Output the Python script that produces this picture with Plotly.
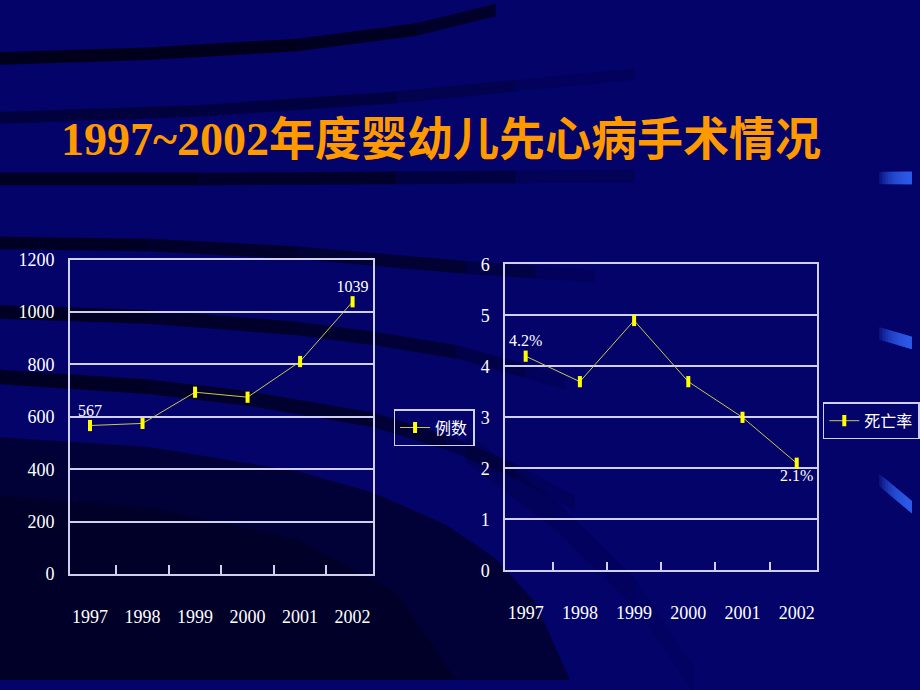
import plotly.graph_objects as go

# data
years = ["1997", "1998", "1999", "2000", "2001", "2002"]
cases = [567, 575, 694, 675, 811, 1039]
case_labels = ["567", "", "", "", "", "1039"]
death_rate = [4.2, 3.7, 4.9, 3.7, 3.0, 2.1]
death_labels = ["4.2%", "", "", "", "", "2.1%"]

W, H = 920, 690
BG = "#03036a"
GRID = "#d0d0ee"
LINE = "#c8c850"
TICKFONT = dict(family="Liberation Serif", size=18, color="white")


def pt(x, y):
    # pixel -> paper coords
    return f"{x / W:.4f},{1 - y / H:.4f}"


def poly(pts, color):
    path = "M " + " L ".join(pt(x, y) for x, y in pts) + " Z"
    return dict(type="path", xref="paper", yref="paper", path=path,
                fillcolor=color, line=dict(width=0), layer="below")


def band(center, width, alphas, rgb="0,0,15"):
    # dark stripe drawn piece by piece so it can fade out to the right
    out = []
    for i in range(len(center) - 1):
        (x0, y0), (x1, y1) = center[i], center[i + 1]
        h = width / 2
        out.append(poly([(x0, y0 - h), (x1, y1 - h), (x1, y1 + h), (x0, y0 + h)],
                        f"rgba({rgb},{alphas[i]})"))
    return out


fig = go.Figure()

fig.add_trace(go.Scatter(
    x=years, y=cases, name="例数", mode="lines+markers+text",
    text=case_labels, textposition="top center", cliponaxis=False,
    textfont=dict(family="Liberation Serif", size=16, color="white"),
    line=dict(color=LINE, width=1),
    marker=dict(symbol="line-ns-open", size=8, color="#ffff00", line=dict(color="#ffff00", width=4)),
    xaxis="x", yaxis="y", legend="legend"))

fig.add_trace(go.Scatter(
    x=years, y=death_rate, name="死亡率", mode="lines+markers+text",
    text=death_labels, cliponaxis=False,
    textposition=["top center", "top center", "top center", "top center", "top center", "bottom center"],
    textfont=dict(family="Liberation Serif", size=16, color="white"),
    line=dict(color=LINE, width=1),
    marker=dict(symbol="line-ns-open", size=8, color="#ffff00", line=dict(color="#ffff00", width=4)),
    xaxis="x2", yaxis="y2", legend="legend2"))

xcommon = dict(type="category", showgrid=False, zeroline=False, showline=True, mirror=True,
               linecolor=GRID, linewidth=1.5, ticks="inside", tickson="boundaries",
               ticklen=9, tickcolor=GRID, tickwidth=1.5, ticklabelstandoff=25,
               tickfont=TICKFONT)
ycommon = dict(showgrid=True, gridcolor=GRID, gridwidth=1.5, zeroline=False, showline=True,
               mirror=True, linecolor=GRID, linewidth=1.5, ticks="", ticklabelstandoff=10,
               tickfont=TICKFONT)

legend_style = dict(bgcolor="rgba(0,0,0,0)", bordercolor=GRID, borderwidth=1.5,
                    font=dict(family="Noto Sans CJK SC", size=16, color="white"),
                    itemwidth=30, xanchor="left", yanchor="top")

shapes = []
# big dark sweep in the lower left
shapes.append(poly([(0, 440), (150, 450), (300, 475), (376, 497), (450, 530), (500, 565),
                    (540, 610), (575, 690), (0, 690)], "rgba(0,0,15,0.55)"))
shapes.append(poly([(0, 500), (150, 512), (300, 545), (400, 600), (460, 690), (0, 690)],
                   "rgba(0,0,15,0.35)"))
shapes += band([(470, 450), (560, 520), (640, 600), (700, 690)], 30, [0.2, 0.15, 0.1], "0,0,30")
# thin dark stripes
shapes += band([(0, 50), (150, 45), (300, 36), (420, 20), (500, 0)], 13, [0.85, 0.85, 0.8, 0.7])
shapes += band([(0, 111), (200, 104), (400, 90), (520, 78), (640, 66)], 12, [0.5, 0.45, 0.3, 0.15])
shapes += band([(0, 174), (200, 174), (400, 173), (520, 172), (640, 171)], 13, [0.8, 0.7, 0.45, 0.2])
shapes += band([(0, 240), (150, 242), (300, 250), (470, 265), (540, 270), (600, 274)], 13,
               [0.75, 0.7, 0.6, 0.4, 0.15])
shapes += band([(0, 311), (150, 316), (300, 328), (376, 338), (460, 352), (530, 372), (570, 384)], 14,
               [0.75, 0.7, 0.65, 0.55, 0.35, 0.15])
shapes += band([(0, 378), (150, 388), (250, 400), (376, 422), (450, 445), (520, 475), (580, 508)], 15,
               [0.75, 0.7, 0.65, 0.55, 0.35, 0.15])
# blue accents on the right edge: stacked strips so the blue builds up to the right
for y0, slope in ((173, 0.0), (333, 0.3), (484, 0.85)):
    for k in range(10):
        xs = 887 + 3 * k
        ys = y0 + slope * (xs - 887)
        ye = y0 + slope * (920 - 887)
        shapes.append(poly([(xs, ys - 6.5), (920, ye - 6.5), (920, ye + 6.5), (xs, ys + 6.5)],
                           "rgba(52,100,244,0.2)"))

fig.update_layout(
    width=W, height=H,
    margin=dict(l=0, r=0, t=0, b=0),
    paper_bgcolor=BG, plot_bgcolor="rgba(0,0,0,0)",
    showlegend=True,
    xaxis=dict(domain=[70.5 / W, 376 / W], anchor="y", **xcommon),
    yaxis=dict(domain=[1 - 581 / H, 1 - 257 / H], anchor="x", range=[0, 1200], dtick=200, **ycommon),
    xaxis2=dict(domain=[509.5 / W, 824.5 / W], anchor="y2", **xcommon),
    yaxis2=dict(domain=[1 - 577 / H, 1 - 262 / H], anchor="x2", range=[0, 6], dtick=1, **ycommon),
    legend=dict(x=397 / W, y=1 - 411 / H, **legend_style),
    legend2=dict(x=830 / W, y=1 - 404 / H, **legend_style),
    shapes=shapes,
    annotations=[dict(
        text="1997~2002年度婴幼儿先心病手术情况",
        x=445 / W, y=1 - 133 / H, xref="paper", yref="paper", showarrow=False,
        xanchor="center", yanchor="middle",
        font=dict(family="Liberation Serif, Noto Sans CJK SC", size=46, color="#ff9900", weight="bold"))],
)

fig.write_html("out.html", config={"displayModeBar": False},
               post_script="document.body.style.margin='0px';")
